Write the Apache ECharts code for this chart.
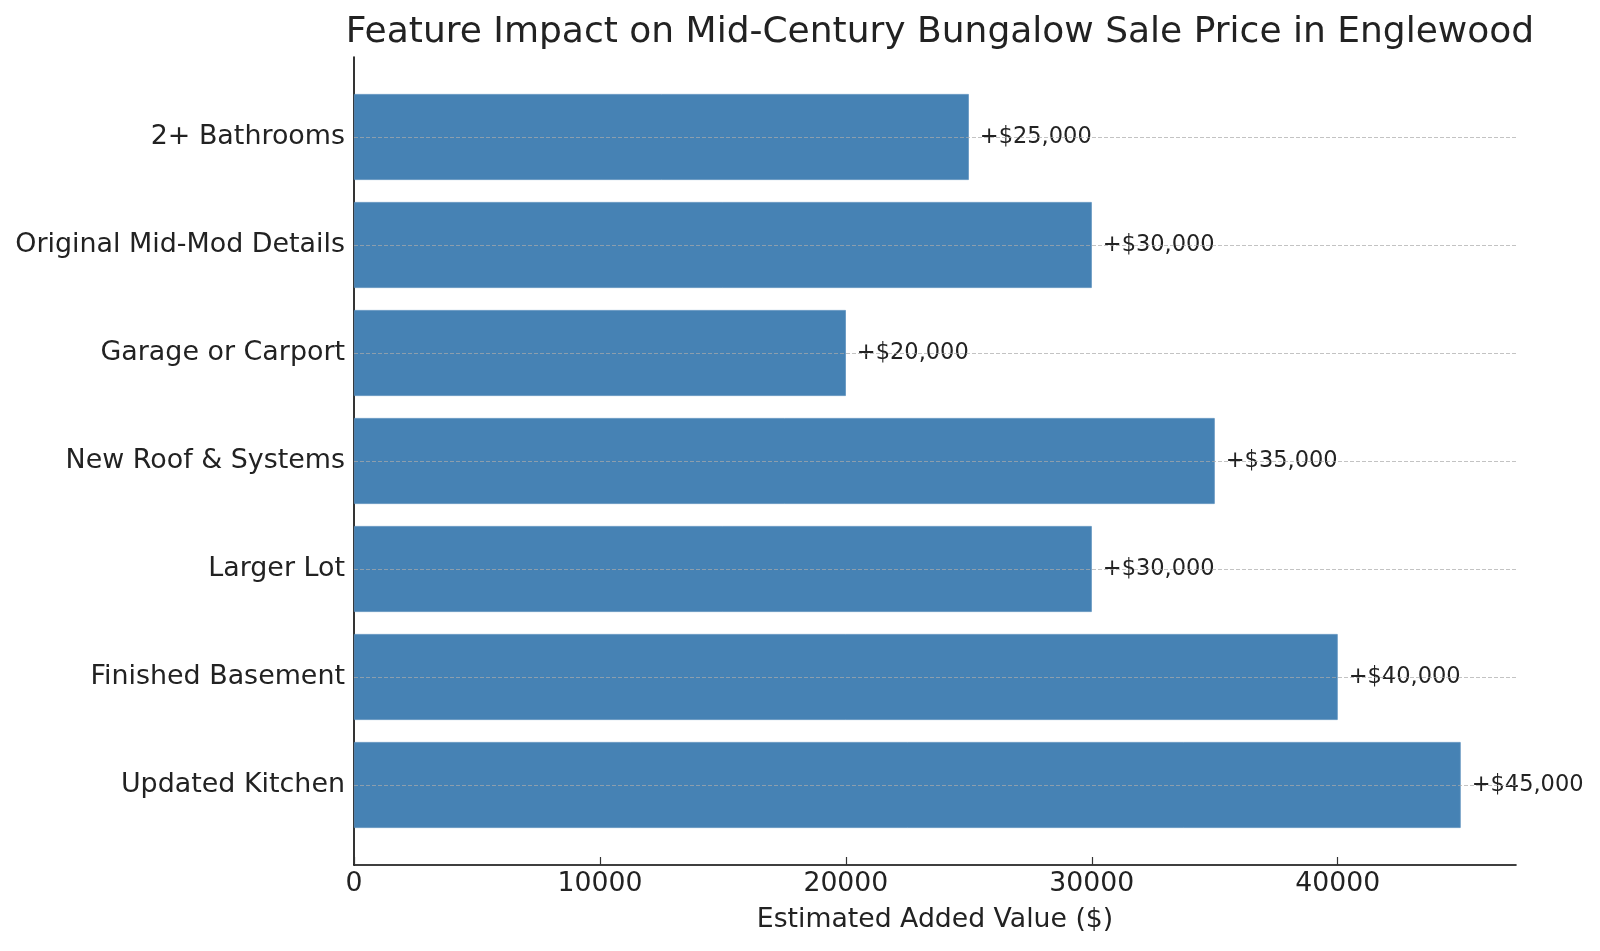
<!DOCTYPE html>
<html>
<head>
<meta charset="utf-8">
<title>Feature Impact on Mid-Century Bungalow Sale Price in Englewood</title>
<script src="https://cdn.jsdelivr.net/npm/echarts@6/dist/echarts.min.js"></script>
<style>
  html, body { margin: 0; padding: 0; background: #fff; }
  #main { width: 1600px; height: 951px; }
</style>
</head>
<body>
<div id="main"></div>
<script>
// categories listed bottom to top (category axis starts at the bottom)
const features = [
  "Updated Kitchen",
  "Finished Basement",
  "Larger Lot",
  "New Roof & Systems",
  "Garage or Carport",
  "Original Mid-Mod Details",
  "2+ Bathrooms"
];
const addedValue = [45000, 40000, 30000, 35000, 20000, 30000, 25000];
const xTicks = [0, 10000, 20000, 30000, 40000];
const xMax = 47250;

const font = "DejaVu Sans";
const myChart = echarts.init(document.getElementById("main"));

const option = {
  animation: false,
  backgroundColor: "#ffffff",
  title: {
    text: "Feature Impact on Mid-Century Bungalow Sale Price in Englewood",
    left: 935,
    textAlign: "center",
    top: 10,
    textStyle: { fontFamily: font, fontSize: 36, fontWeight: "normal", color: "#222" }
  },
  grid: [
    // frame grid: spines, x ticks and x labels
    { left: 354, right: 84, top: 57, bottom: 86 },
    // bar grid: category bands
    { left: 354, right: 84, top: 83, bottom: 112 }
  ],
  xAxis: [
    {
      gridIndex: 0,
      type: "value",
      min: 0,
      max: xMax,
      name: "Estimated Added Value ($)",
      nameLocation: "middle",
      nameGap: 42,
      nameTextStyle: { fontFamily: font, fontSize: 26.7, color: "#222" },
      axisLine: { show: true, lineStyle: { color: "#000", width: 1.6 } },
      axisTick: { show: true, inside: true, length: 8, customValues: xTicks, lineStyle: { color: "#333", width: 1.2 } },
      axisLabel: {
        customValues: xTicks,
        margin: 6,
        fontFamily: font,
        fontSize: 26.7,
        color: "#222",
        formatter: function (v) { return String(v); }
      },
      splitLine: { show: false }
    },
    {
      gridIndex: 1,
      type: "value",
      min: 0,
      max: xMax,
      show: false
    }
  ],
  yAxis: [
    {
      gridIndex: 0,
      type: "value",
      min: 0,
      max: 1,
      axisLine: { show: true, lineStyle: { color: "#000", width: 1.6 } },
      axisTick: { show: false },
      axisLabel: { show: false },
      splitLine: { show: false }
    },
    {
      gridIndex: 1,
      type: "category",
      data: features,
      axisLine: { show: false },
      axisTick: { show: true, inside: true, alignWithLabel: true, length: 8, lineStyle: { color: "#333", width: 1.2 } },
      axisLabel: { margin: 9, fontFamily: font, fontSize: 26.9, color: "#222" },
      splitLine: { show: false }
    }
  ],
  series: [
    {
      type: "bar",
      xAxisIndex: 1,
      yAxisIndex: 1,
      data: addedValue,
      barWidth: 86,
      itemStyle: { color: "#4682B4", borderColor: "#5b8fbd", borderWidth: 0.8 },
      label: {
        show: true,
        position: "right",
        distance: 11,
        fontFamily: font,
        fontSize: 22.5,
        color: "#222",
        formatter: function (p) { return "+$" + p.value.toLocaleString("en-US"); }
      },
      markLine: {
        silent: true,
        symbol: "none",
        label: { show: false },
        lineStyle: { type: [4, 2], color: "rgba(170,170,170,0.7)", width: 1 },
        data: features.map(function (f) { return { yAxis: f }; })
      }
    }
  ]
};

myChart.setOption(option);
</script>
</body>
</html>
